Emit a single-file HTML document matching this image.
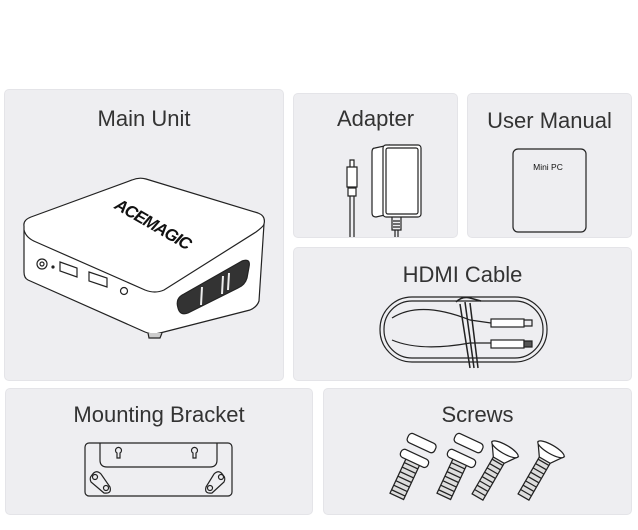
<!DOCTYPE html>
<html><head><style>
html,body{margin:0;padding:0;background:#fff;width:638px;height:530px;overflow:hidden;font-family:"Liberation Sans",sans-serif}
.p{position:absolute;background:#eeeef1;border-radius:5px;border:1px solid #e4e4e8;box-sizing:border-box}
.t{position:absolute;left:0;right:0;text-align:center;color:#333;font-size:22px}
svg{position:absolute;left:0;top:0}
</style></head><body>
<div class="p" style="left:4px;top:89px;width:280px;height:292px"><div class="t" style="top:16px">Main Unit</div></div>
<div class="p" style="left:293px;top:93px;width:165px;height:145px"><div class="t" style="top:12px">Adapter</div></div>
<div class="p" style="left:467px;top:93px;width:165px;height:145px"><div class="t" style="top:14px">User Manual</div></div>
<div class="p" style="left:293px;top:247px;width:339px;height:134px"><div class="t" style="top:14px">HDMI Cable</div></div>
<div class="p" style="left:5px;top:388px;width:308px;height:127px"><div class="t" style="top:13px">Mounting Bracket</div></div>
<div class="p" style="left:323px;top:388px;width:309px;height:127px"><div class="t" style="top:13px">Screws</div></div>
<svg width="638" height="530" fill="none" stroke="#222" stroke-width="1.2">
<!-- main unit -->
<path d="M24 226 Q23 220 31 217 L132 180 Q139 177 146 179 L258 213 Q266 216 264 224 L259 301 Q257 307 250 310 L160 333 Q152 335 145 332 L28 280 Q24 278 24 272 Z" fill="#fff"/>
<path d="M24 230 Q26 238 36 242 L145 290 Q155 294 164 290 L256 232 Q264 226 264 224" />
<path d="M148 333 L149 338 L160 338 L162 333" fill="#ccc"/>
<text x="150" y="229" font-family="Liberation Sans" font-weight="bold" font-style="italic" font-size="17" fill="#111" stroke="none" transform="rotate(30 150 229)" text-anchor="middle" letter-spacing="-1">ACEMAGIC</text>
<circle cx="42" cy="264" r="5"/><circle cx="42" cy="264" r="2"/>
<circle cx="53" cy="267" r="1" fill="#222"/>
<path d="M60 262 L77 268 L77 277 L60 271 Z" fill="#fff"/>
<path d="M89 272 L107 278 L107 287 L89 281 Z" fill="#fff"/>
<circle cx="124" cy="291" r="3.5"/>
<path d="M178 308 Q175 298 184 294 L242 261 Q251 258 249 267 L247 278 Q245 285 238 288 L188 313 Q180 316 178 308 Z" fill="#333"/>
<path d="M201 305 L202 287 M222 294 L223 276 M228 290 L229 273" stroke="#eee" stroke-width="2"/>
<!-- adapter -->
<path d="M375 148 L389 145 L389 214 L376 217 Q372 217 372 213 L372 152 Q372 148 375 148 Z" fill="#fff"/>
<rect x="383" y="145" width="38" height="72" rx="3" fill="#fff"/>
<rect x="386" y="148" width="32" height="66" rx="2"/>
<path d="M392 217 L392 230 L401 230 L401 217 M393 221 H400 M393 224 H400 M393 227 H400 M395 230 V237 M398 230 V237"/>
<path d="M350 160 h4 v7 h-4 Z M347 167 h10 v20 h-10 Z M348 188 h8 v8 h-8 Z M350 196 v41 M354 196 v41" fill="#fff"/>
<!-- manual -->
<rect x="513" y="149" width="73" height="83" rx="5" fill="#eeeef1"/>
<text x="548" y="170" font-size="8.5" fill="#111" stroke="none" text-anchor="middle" font-family="Liberation Sans">Mini PC</text>
<!-- hdmi -->
<rect x="380" y="297" width="167" height="65" rx="32"/>
<rect x="384" y="301" width="159" height="57" rx="28"/>
<path d="M392 318 Q420 300 470 320 L491 323 M392 340 Q420 352 470 343 L491 343"/>
<rect x="491" y="319" width="33" height="8" fill="#fff"/><path d="M524 320 h8 v6 h-8"/>
<rect x="491" y="340" width="33" height="8" fill="#fff"/><path d="M524 341 h8 v6 h-8 Z" fill="#555"/>
<path d="M456 302 Q462 296 470 298 L481 301 M460 304 L470 368 M465 302 L474 368 M470 303 L478 368" stroke-width="1.5"/>
<!-- bracket -->
<rect x="85" y="443" width="147" height="53" rx="4"/>
<path d="M100 443 V460 Q100 467 107 467 H210 Q217 467 217 460 V443"/>
<path d="M117 465 v-5 a3 3 0 1 1 3 0 v5 Z" transform="translate(0,-7)"/>
<path d="M193 465 v-5 a3 3 0 1 1 3 0 v5 Z" transform="translate(0,-7)"/>
<path d="M92 475 Q96 469 101 474 L110 487 Q112 494 104 493 L91 482 Q89 478 92 475 Z"/>
<circle cx="95" cy="477" r="2.5"/><circle cx="106" cy="488" r="2.5"/>
<path d="M223 475 Q219 469 214 474 L206 487 Q204 494 212 493 L224 482 Q226 478 223 475 Z"/>
<circle cx="221" cy="477" r="2.5"/><circle cx="210" cy="488" r="2.5"/>
<!-- screws -->
<g fill="#fff" stroke-width="1">
<g transform="translate(410,468) rotate(25) scale(1.25)">
<rect x="-6" y="-10" width="12" height="35" fill="#ddd"/><path d="M-6 -6 h12 M-6 -2 h12 M-6 2 h12 M-6 6 h12 M-6 10 h12 M-6 14 h12 M-6 18 h12 M-6 22 h12"/>
<rect x="-12" y="-12" width="24" height="7" rx="3"/><rect x="-12" y="-26" width="24" height="8" rx="3"/></g>
<g transform="translate(457,468) rotate(25) scale(1.25)">
<rect x="-6" y="-10" width="12" height="35" fill="#ddd"/><path d="M-6 -6 h12 M-6 -2 h12 M-6 2 h12 M-6 6 h12 M-6 10 h12 M-6 14 h12 M-6 18 h12 M-6 22 h12"/>
<rect x="-12" y="-12" width="24" height="7" rx="3"/><rect x="-12" y="-26" width="24" height="8" rx="3"/></g>
<g transform="translate(500,458) rotate(30) scale(1.25)">
<rect x="-5" y="0" width="10" height="36" fill="#ddd"/><path d="M-5 4 h10 M-5 8 h10 M-5 12 h10 M-5 16 h10 M-5 20 h10 M-5 24 h10 M-5 28 h10 M-5 32 h10"/>
<path d="M-12 -8 L-5 2 H5 L12 -8 Z"/><ellipse cx="0" cy="-8" rx="12" ry="3.5"/></g>
<g transform="translate(546,458) rotate(30) scale(1.25)">
<rect x="-5" y="0" width="10" height="36" fill="#ddd"/><path d="M-5 4 h10 M-5 8 h10 M-5 12 h10 M-5 16 h10 M-5 20 h10 M-5 24 h10 M-5 28 h10 M-5 32 h10"/>
<path d="M-12 -8 L-5 2 H5 L12 -8 Z"/><ellipse cx="0" cy="-8" rx="12" ry="3.5"/></g>
</g>
</svg>
</body></html>
